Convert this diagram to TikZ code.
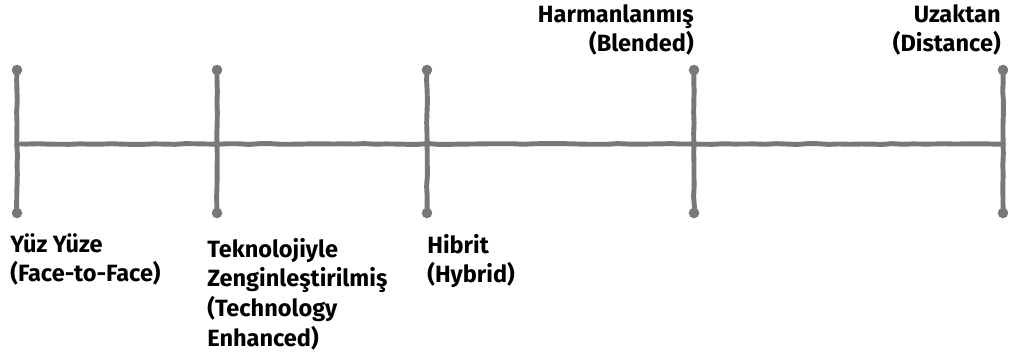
\documentclass[tikz,border=0pt]{standalone}
\usepackage{fontspec}
\setmainfont{Fira Sans}
\usetikzlibrary{decorations.pathmorphing}
\definecolor{axisgray}{RGB}{120,120,120}
\tikzset{
    axisline/.style={draw=axisgray, line width=2.8pt, line cap=round,
        decorate, decoration={random steps, segment length=6pt, amplitude=0.25pt}},
    enddot/.style={fill=axisgray, circle, inner sep=0pt, minimum size=6pt},
    lbl/.style={inner sep=0pt, align=left, font=\bfseries\fontsize{13.4}{16.8}\selectfont},
    lblr/.style={lbl, align=right}
}
\begin{document}
\begin{tikzpicture}[x=0.02cm, y=-0.02cm]
    \useasboundingbox (0,0) rectangle (1010,360);
    % ends of the axis
    \coordinate (a0) at (17,144);
    \coordinate (a1) at (1003,144);
    % tick ends
    \coordinate (t1) at (17,70);   \coordinate (b1) at (17,213);
    \coordinate (t2) at (217,70);  \coordinate (b2) at (217,213);
    \coordinate (t3) at (427,70);  \coordinate (b3) at (427,213);
    \coordinate (t4) at (694,70);  \coordinate (b4) at (694,213);
    \coordinate (t5) at (1003,70); \coordinate (b5) at (1003,213);
    \draw[axisline] (a0) -- (a1);
    \foreach \i in {1,...,5} {
        \draw[axisline] (t\i) -- (b\i);
        \node[enddot] (dt\i) at (t\i) {};
        \node[enddot] (db\i) at (b\i) {};
    }
    % labels
    \node[lbl, anchor=north west] (ftf) at (10,233) {Yüz Yüze\\(Face-to-Face)};
    \node[lbl, anchor=north west] (tech) at (207,238) {Teknolojiyle\\Zenginleştirilmiş\\(Technology\\Enhanced)};
    \node[lbl, anchor=north west] (hyb) at (427,234) {Hibrit\\(Hybrid)};
    \node[lblr, anchor=north east] (blend) at (694,4) {Harmanlanmış\\(Blended)};
    \node[lblr, anchor=north east] (dist) at (1001,4) {Uzaktan\\(Distance)};
\end{tikzpicture}
\end{document}
